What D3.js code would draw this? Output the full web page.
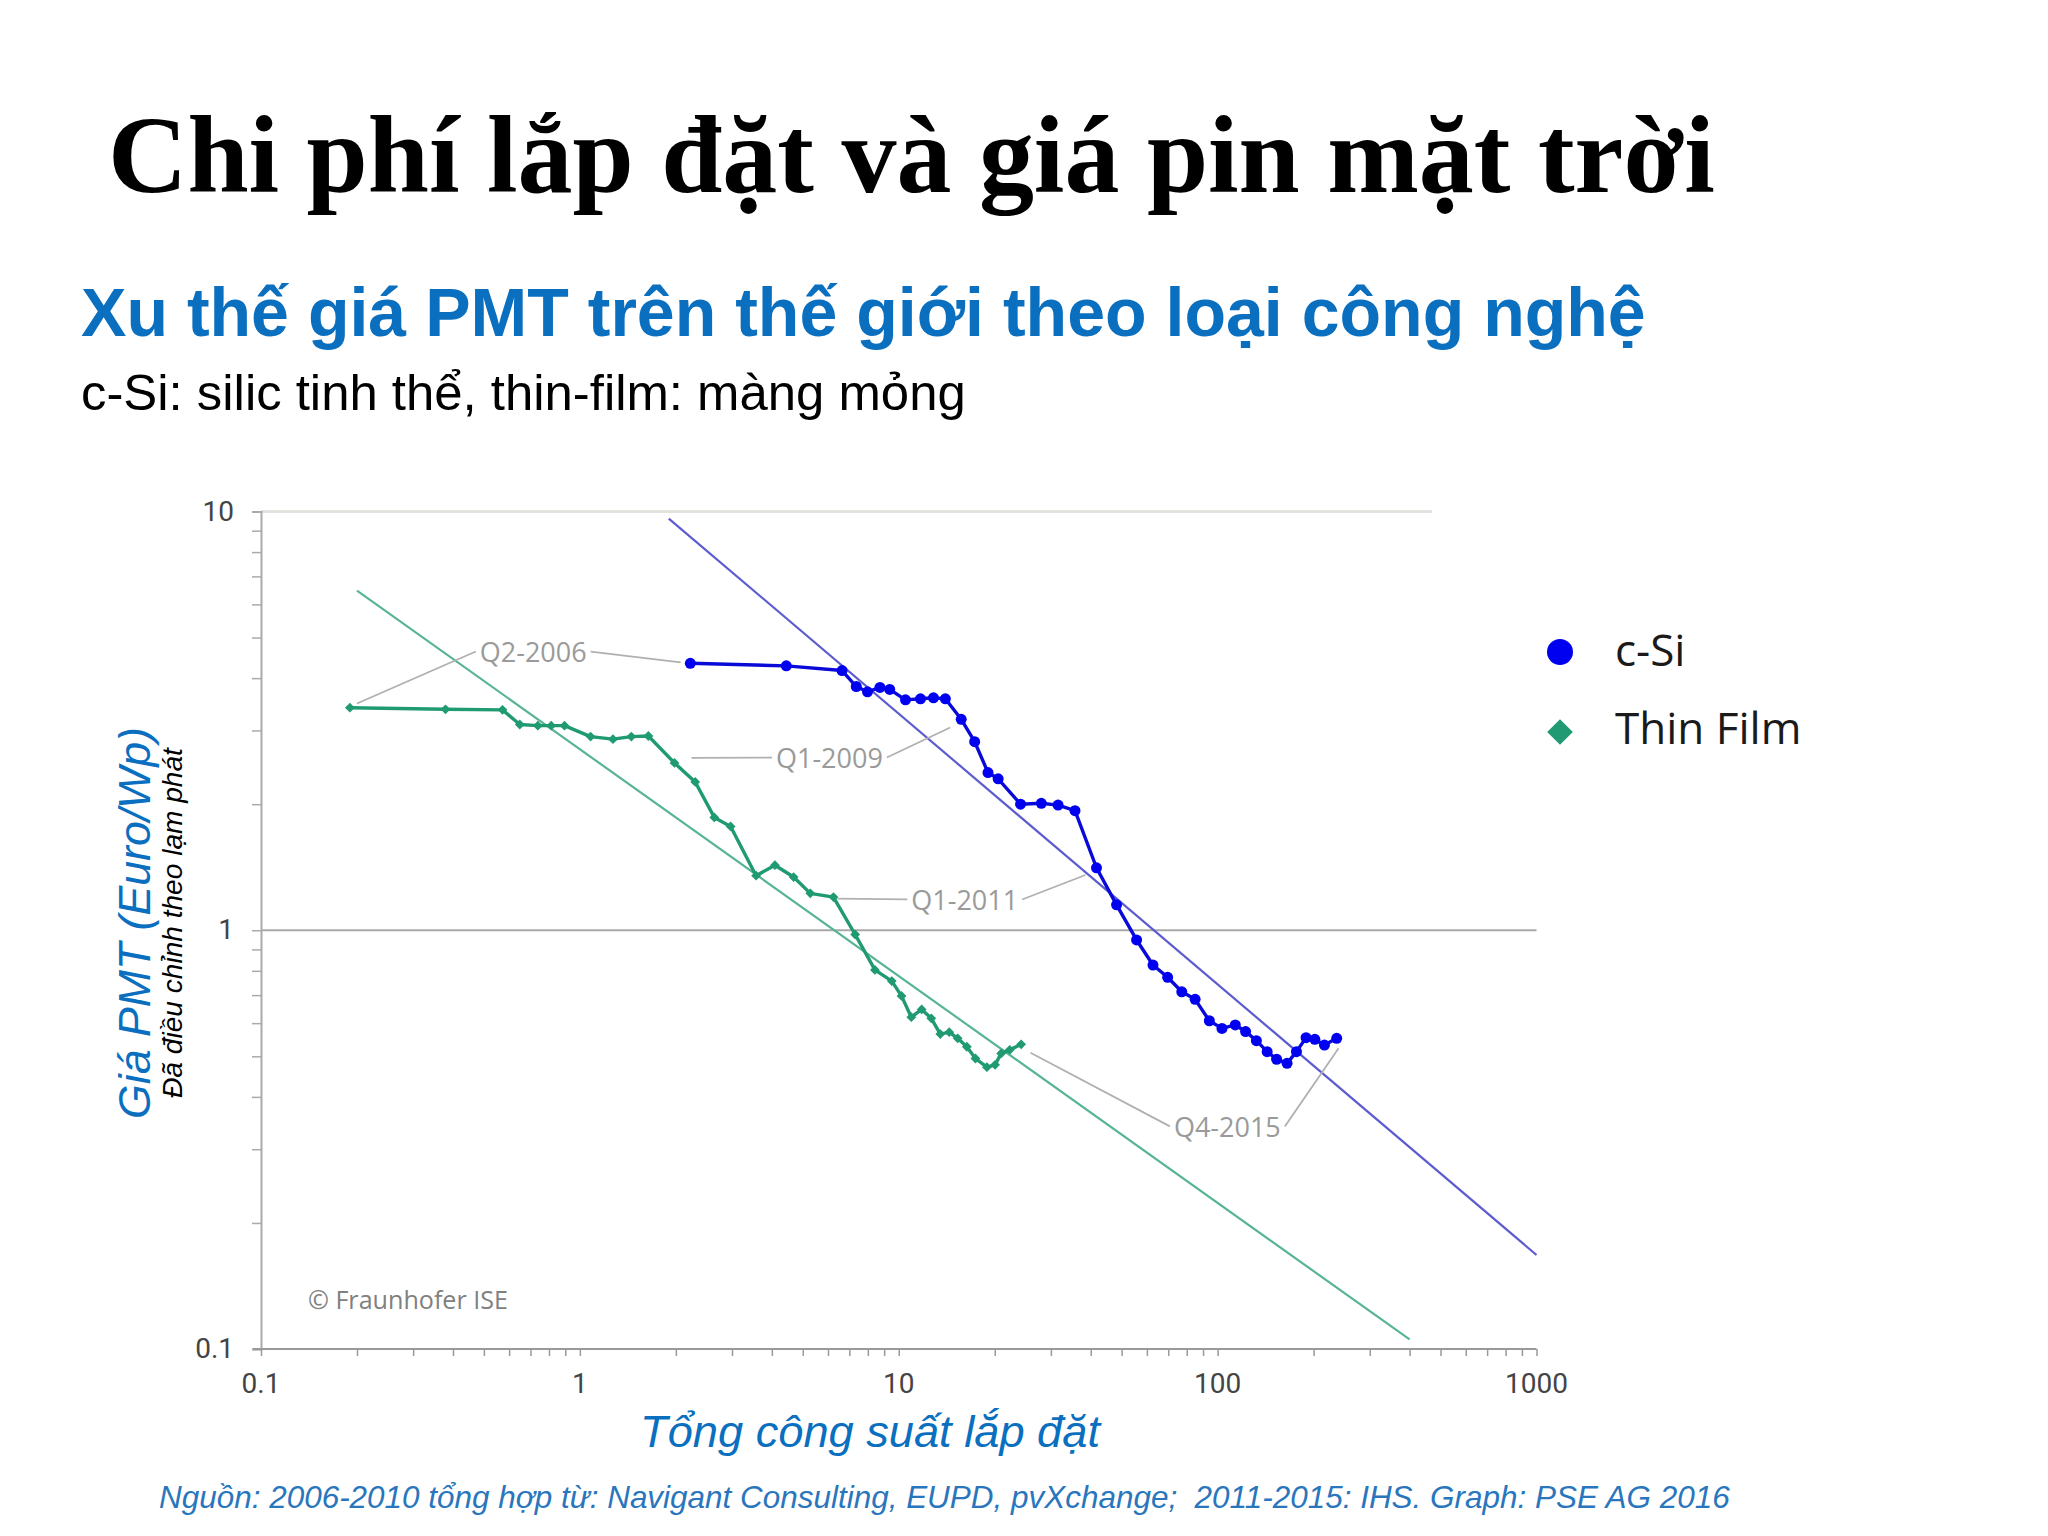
<!DOCTYPE html>
<html>
<head>
<meta charset="utf-8">
<script src="https://cdn.jsdelivr.net/npm/d3@7"></script>
<style>
  html, body { margin: 0; padding: 0; background: #ffffff; }
  svg { display: block; }
</style>
</head>
<body>
<svg id="chart" width="2048" height="1536"></svg>
<script>
// ---------------- DATA ----------------
const titleText = "Chi phí lắp đặt và giá pin mặt trời";
const subtitleText = "Xu thế giá PMT trên thế giới theo loại công nghệ";
const noteText = "c-Si: silic tinh thể, thin-film: màng mỏng";
const yTitleText = "Giá PMT (Euro/Wp)";
const ySubTitleText = "Đã điều chỉnh theo lạm phát";
const xTitleText = "Tổng công suất lắp đặt";
const sourceText = "Nguồn: 2006-2010 tổng hợp từ: Navigant Consulting, EUPD, pvXchange;  2011-2015: IHS. Graph: PSE AG 2016";
const copyrightText = "© Fraunhofer ISE";

const seriesNames = ["c-Si", "Thin Film"];

// c-Si (cumulative installed capacity GWp, price Euro/Wp)
const csiX = [2.22, 4.44, 6.64, 7.36, 7.98, 8.73, 9.37, 10.5, 11.7, 12.85,
              14.0, 15.7, 17.3, 19.05, 20.5, 24.1, 28.0, 31.6, 35.7, 41.7,
              48.2, 55.7, 62.7, 69.7, 77.2, 85.0, 94.2, 103.2, 113.6, 122.4,
              132.3, 143.0, 153.1, 165.1, 176.7, 189.4, 201.8, 216.3, 236.3];
const csiY = [4.34, 4.28, 4.17, 3.82, 3.71, 3.80, 3.76, 3.55, 3.57, 3.59,
              3.57, 3.19, 2.82, 2.38, 2.30, 2.00, 2.01, 1.99, 1.93, 1.41,
              1.15, 0.948, 0.826, 0.772, 0.713, 0.684, 0.608, 0.583, 0.594, 0.573,
              0.545, 0.513, 0.492, 0.481, 0.513, 0.554, 0.549, 0.532, 0.552];

// Thin film
const tfX = [0.190, 0.379, 0.572, 0.648, 0.738, 0.813, 0.895, 1.08, 1.27, 1.45,
             1.64, 1.98, 2.30, 2.64, 2.97, 3.57, 4.09, 4.68, 5.28, 6.24,
             7.30, 8.42, 9.51, 10.2, 10.95, 11.8, 12.65, 13.5, 14.4, 15.3,
             16.35, 17.4, 18.9, 20.05, 20.95, 22.3, 24.2];
const tfY = [3.40, 3.37, 3.36, 3.10, 3.08, 3.08, 3.08, 2.90, 2.86, 2.90,
             2.91, 2.51, 2.26, 1.86, 1.77, 1.35, 1.43, 1.34, 1.225, 1.20,
             0.977, 0.804, 0.756, 0.697, 0.620, 0.647, 0.616, 0.565, 0.571, 0.552,
             0.527, 0.494, 0.471, 0.477, 0.508, 0.518, 0.534];

// learning-curve trend lines (endpoints)
const csiTrendX = [1.90, 1000];
const csiTrendY = [9.62, 0.1677];
const tfTrendX = [0.2, 400];
const tfTrendY = [6.47, 0.1054];

// axes
const xDomain = [0.1, 1000];
const yDomain = [0.1, 10];
const xTickValues = [0.1, 1, 10, 100, 1000];
const xTickLabels = ["0.1", "1", "10", "100", "1000"];
const yTickValues = [0.1, 1, 10];
const yTickLabels = ["0.1", "1", "10"];
const topGridEndX = 470;

// annotations: label position (data coords) and leader end points (data coords)
const annLabels = ["Q2-2006", "Q1-2009", "Q1-2011", "Q4-2015"];
const annX = [0.714, 6.06, 16.1, 107.3];
const annY = [4.37, 2.44, 1.118, 0.321];
const annLeftEndX = [0.2, 2.24, 6.43, 25.9];
const annLeftEndY = [3.48, 2.58, 1.19, 0.51];
const annRightEndX = [2.07, 14.5, 38.5, 239.5];
const annRightEndY = [4.36, 3.05, 1.355, 0.5225];

// ---------------- DRAW ----------------
const svg = d3.select("#chart");
const blueText = "#0a6fbf";
const csiColor = "#0000f0";
const tfColor = "#1f9a72";

function fit(sel, target) {
  const w = sel.node().getComputedTextLength();
  const fs = parseFloat(sel.attr("font-size"));
  sel.attr("font-size", fs * target / w);
}

// Headings
fit(svg.append("text").attr("x", 108).attr("y", 192)
  .attr("font-family", "'Liberation Serif', 'Times New Roman', serif")
  .attr("font-weight", "bold").attr("font-size", 110).attr("fill", "#000")
  .text(titleText), 1607);

fit(svg.append("text").attr("x", 81).attr("y", 336)
  .attr("font-family", "'Liberation Sans', Arial, sans-serif")
  .attr("font-weight", "bold").attr("font-size", 70).attr("fill", blueText)
  .text(subtitleText), 1565);

fit(svg.append("text").attr("x", 81).attr("y", 410)
  .attr("font-family", "'Liberation Sans', Arial, sans-serif")
  .attr("font-size", 50).attr("fill", "#000")
  .text(noteText), 885);

// Scales
const x = d3.scaleLog().domain(xDomain).range([261, 1536.5]);
const y = d3.scaleLog().domain(yDomain).range([1349, 511.5]);

const g = svg.append("g");

// top gridline (10) and gridline at 1
g.append("line")
  .attr("x1", x(xDomain[0])).attr("x2", x(topGridEndX))
  .attr("y1", y(10)).attr("y2", y(10))
  .attr("stroke", "#e2e2de").attr("stroke-width", 3);
g.append("line")
  .attr("x1", x(xDomain[0])).attr("x2", x(xDomain[1]))
  .attr("y1", y(1)).attr("y2", y(1))
  .attr("stroke", "#a8a8a8").attr("stroke-width", 2);

// Y axis
const yAxis = d3.axisLeft(y)
  .tickValues(d3.range(-1, 1).flatMap(e => d3.range(1, 10).map(m => m * Math.pow(10, e))).concat([10]))
  .tickSize(9).tickFormat("");
const yAxG = g.append("g").attr("transform", `translate(${x(xDomain[0])},0)`).call(yAxis);
yAxG.select(".domain").attr("stroke", "#aaaaaa").attr("stroke-width", 2);
yAxG.selectAll(".tick line").attr("stroke", "#aaaaaa").attr("stroke-width", 1.5);

// X axis
const xAxis = d3.axisBottom(x)
  .tickValues(d3.range(-1, 3).flatMap(e => d3.range(1, 10).map(m => m * Math.pow(10, e))).concat([1000]))
  .tickSize(7).tickFormat("");
const xAxG = g.append("g").attr("transform", `translate(0,${y(yDomain[0])})`).call(xAxis);
xAxG.select(".domain").remove();
xAxG.selectAll(".tick line").attr("stroke", "#999999").attr("stroke-width", 1.5);
g.append("line")
  .attr("x1", x(xDomain[0]) - 8).attr("x2", x(xDomain[1]))
  .attr("y1", y(yDomain[0])).attr("y2", y(yDomain[0]))
  .attr("stroke", "#999999").attr("stroke-width", 2);

// tick labels
const tickFont = "Roboto, 'Liberation Sans', sans-serif";
g.selectAll(".xlab").data(xTickValues).enter().append("text")
  .attr("x", d => x(d)).attr("y", 1393)
  .attr("text-anchor", "middle").attr("font-family", tickFont)
  .attr("font-size", 28).attr("fill", "#444")
  .text((d, i) => xTickLabels[i]);
g.selectAll(".ylab").data(yTickValues).enter().append("text")
  .attr("x", 234).attr("y", d => y(d) + 9)
  .attr("text-anchor", "end").attr("font-family", tickFont)
  .attr("font-size", 28).attr("fill", "#444")
  .text((d, i) => yTickLabels[i]);

// trend lines
const lineGen = d3.line().x(d => x(d[0])).y(d => y(d[1]));
g.append("path").datum(csiTrendX.map((v, i) => [v, csiTrendY[i]]))
  .attr("d", lineGen).attr("fill", "none")
  .attr("stroke", "#5c5cd0").attr("stroke-width", 2.2);
g.append("path").datum(tfTrendX.map((v, i) => [v, tfTrendY[i]]))
  .attr("d", lineGen).attr("fill", "none")
  .attr("stroke", "#58b592").attr("stroke-width", 2.2);

// annotations
const annFont = "'Open Sans', 'Noto Sans', sans-serif";
annLabels.forEach((lab, i) => {
  const t = g.append("text")
    .attr("x", x(annX[i])).attr("y", y(annY[i]))
    .attr("text-anchor", "middle").attr("font-family", annFont)
    .attr("font-size", 27).attr("fill", "#9a9a9a")
    .text(lab);
  const bb = t.node().getBBox();
  const my = bb.y + bb.height * 0.5;
  g.append("line")
    .attr("x1", bb.x - 4).attr("y1", my)
    .attr("x2", x(annLeftEndX[i])).attr("y2", y(annLeftEndY[i]))
    .attr("stroke", "#b0b0b0").attr("stroke-width", 1.8);
  g.append("line")
    .attr("x1", bb.x + bb.width + 4).attr("y1", my)
    .attr("x2", x(annRightEndX[i])).attr("y2", y(annRightEndY[i]))
    .attr("stroke", "#b0b0b0").attr("stroke-width", 1.8);
});

// series lines
const tfData = tfX.map((v, i) => [v, tfY[i]]);
const csiData = csiX.map((v, i) => [v, csiY[i]]);
const diamond = d3.symbol().type(d3.symbolSquare);
g.append("path").datum(tfData).attr("d", lineGen).attr("fill", "none")
  .attr("stroke", tfColor).attr("stroke-width", 3.4).attr("stroke-linejoin", "round");
g.selectAll(".tfpt").data(tfData).enter().append("path")
  .attr("transform", d => `translate(${x(d[0])},${y(d[1])}) rotate(45)`)
  .attr("d", diamond.size(48))
  .attr("fill", tfColor);

g.append("path").datum(csiData).attr("d", lineGen).attr("fill", "none")
  .attr("stroke", "#0a0ad8").attr("stroke-width", 3.4).attr("stroke-linejoin", "round");
g.selectAll(".csipt").data(csiData).enter().append("circle")
  .attr("cx", d => x(d[0])).attr("cy", d => y(d[1])).attr("r", 5.5)
  .attr("fill", csiColor);

// copyright
fit(g.append("text").attr("x", 308).attr("y", 1309)
  .attr("font-family", annFont).attr("font-size", 25).attr("fill", "#808080")
  .text(copyrightText), 200);

// legend
const legend = svg.append("g");
legend.append("circle").attr("cx", 1560).attr("cy", 652).attr("r", 13).attr("fill", csiColor);
legend.append("path").attr("transform", "translate(1560,732) rotate(45)")
  .attr("d", d3.symbol().type(d3.symbolSquare).size(330)).attr("fill", tfColor);
legend.append("text").attr("x", 1615).attr("y", 666)
  .attr("font-family", annFont).attr("font-size", 44).attr("fill", "#1a1a1a")
  .text(seriesNames[0]);
legend.append("text").attr("x", 1615).attr("y", 744)
  .attr("font-family", annFont).attr("font-size", 44).attr("fill", "#1a1a1a")
  .text(seriesNames[1]);

// axis titles
fit(svg.append("text")
  .attr("transform", "translate(150,923) rotate(-90)")
  .attr("text-anchor", "middle")
  .attr("font-family", "'Liberation Sans', Arial, sans-serif")
  .attr("font-style", "italic").attr("font-size", 44).attr("fill", blueText)
  .text(yTitleText), 392);
fit(svg.append("text")
  .attr("transform", "translate(182,923) rotate(-90)")
  .attr("text-anchor", "middle")
  .attr("font-family", "'Liberation Sans', Arial, sans-serif")
  .attr("font-style", "italic").attr("font-size", 27).attr("fill", "#000")
  .text(ySubTitleText), 350);

fit(svg.append("text").attr("x", 870).attr("y", 1447)
  .attr("text-anchor", "middle")
  .attr("font-family", "'Liberation Sans', Arial, sans-serif")
  .attr("font-style", "italic").attr("font-size", 42).attr("fill", blueText)
  .text(xTitleText), 460);

fit(svg.append("text").attr("x", 159).attr("y", 1508)
  .attr("font-family", "'Liberation Sans', Arial, sans-serif")
  .attr("font-style", "italic").attr("font-size", 30).attr("fill", "#2a76bd")
  .style("white-space", "pre")
  .text(sourceText), 1571);
</script>
</body>
</html>
